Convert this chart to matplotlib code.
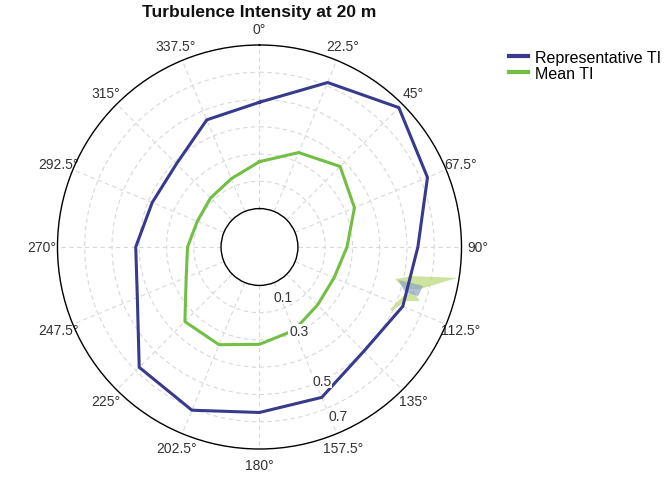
import numpy as np
import matplotlib
matplotlib.use('Agg')
import matplotlib.pyplot as plt

plt.rcParams['font.family'] = ['Liberation Sans', 'DejaVu Sans']

# wind direction sectors (deg, clockwise from north)
directions = [0, 22.5, 45, 67.5, 90, 112.5, 135, 157.5,
              180, 202.5, 225, 247.5, 270, 292.5, 315, 337.5]
dir_labels = ['0°', '22.5°', '45°', '67.5°', '90°', '112.5°', '135°', '157.5°',
              '180°', '202.5°', '225°', '247.5°', '270°', '292.5°', '315°', '337.5°']

rep_ti = [0.49, 0.612, 0.682, 0.626, 0.54, 0.528, 0.50, 0.556,
          0.566, 0.607, 0.583, 0.444, 0.413, 0.385, 0.39, 0.464]
mean_ti = [0.272, 0.334, 0.377, 0.336, 0.28, 0.255, 0.26, 0.29,
           0.316, 0.347, 0.346, 0.25, 0.223, 0.206, 0.213, 0.23]

r_min, r_max = 0.1, 0.7
r_labels = ['0.1', '0.3', '0.5', '0.7']

# stray translucent patches near 100-115 deg (direction, value)
patch_green_a = ([103.3, 100.8, 98.9, 104.7, 106.1],
                 [0.470, 0.529, 0.692, 0.568, 0.515])
patch_blue = ([103.4, 103.3, 103.4, 107.2, 107.2],
              [0.482, 0.519, 0.576, 0.568, 0.518])
patch_green_b = ([115.4, 108.9, 106.0, 108.6, 110.4, 115.8],
                 [0.490, 0.516, 0.545, 0.580, 0.529, 0.499])

blue = '#383a8c'
green = '#72bf44'

fig = plt.figure(figsize=(6.7, 4.81), dpi=100)
ax = fig.add_axes([0.0858, 0.0644, 0.603, 0.84], projection='polar')
ax.set_theta_zero_location('N')
ax.set_theta_direction(-1)
ax.set_rlim(r_min, r_max)
ax.set_rorigin(-0.041)

theta = np.deg2rad(directions + [directions[0]])
ax.plot(theta, rep_ti + [rep_ti[0]], color=blue, lw=2.2, zorder=3)
ax.plot(theta, mean_ti + [mean_ti[0]], color=green, lw=2.2, zorder=3)

ax.fill(np.deg2rad(patch_green_a[0]), patch_green_a[1], color='#c2dc86', alpha=0.8, lw=0, zorder=2)
ax.fill(np.deg2rad(patch_green_b[0]), patch_green_b[1], color='#c2dc86', alpha=0.8, lw=0, zorder=2)
ax.fill(np.deg2rad(patch_blue[0]), patch_blue[1], color='#8da5c4', alpha=0.7, lw=0, zorder=2)

# grid
ax.set_xticks(np.deg2rad(directions))
ax.set_xticklabels(dir_labels, fontsize=10, color='#333333')
ax.tick_params(axis='x', pad=1)
ax.set_yticks([0.2, 0.3, 0.4, 0.5, 0.6])
ax.set_yticklabels([])
ax.grid(True, color='#d8d8d8', ls=(0, (4, 3)), lw=0.8)
ax.spines['polar'].set_color('black')
ax.spines['polar'].set_linewidth(1.0)
ax.spines['inner'].set_color('black')
ax.spines['inner'].set_linewidth(1.0)

# radial labels, nudged inside the plotting ring
label_r = [0.16, 0.3, 0.5, 0.645]
for r, s in zip(label_r, r_labels):
    ax.text(np.deg2rad(155), r, s, fontsize=10, color='#333333', ha='center', va='center',
            zorder=4, bbox=dict(facecolor='white', edgecolor='none', pad=0.5))

fig.text(0.387, 0.973, 'Turbulence Intensity at 20 m', fontsize=12.5, fontweight='bold',
         ha='center', va='center', color='#111111')

handles = [plt.Line2D([], [], color=blue, lw=3), plt.Line2D([], [], color=green, lw=3)]
fig.legend(handles, ['Representative TI', 'Mean TI'], loc='upper left',
           bbox_to_anchor=(0.743, 0.918), frameon=False, fontsize=11.5,
           handlelength=1.2, handletextpad=0.4, labelspacing=0.08, borderpad=0.2)

fig.savefig('out.png', dpi=100)
